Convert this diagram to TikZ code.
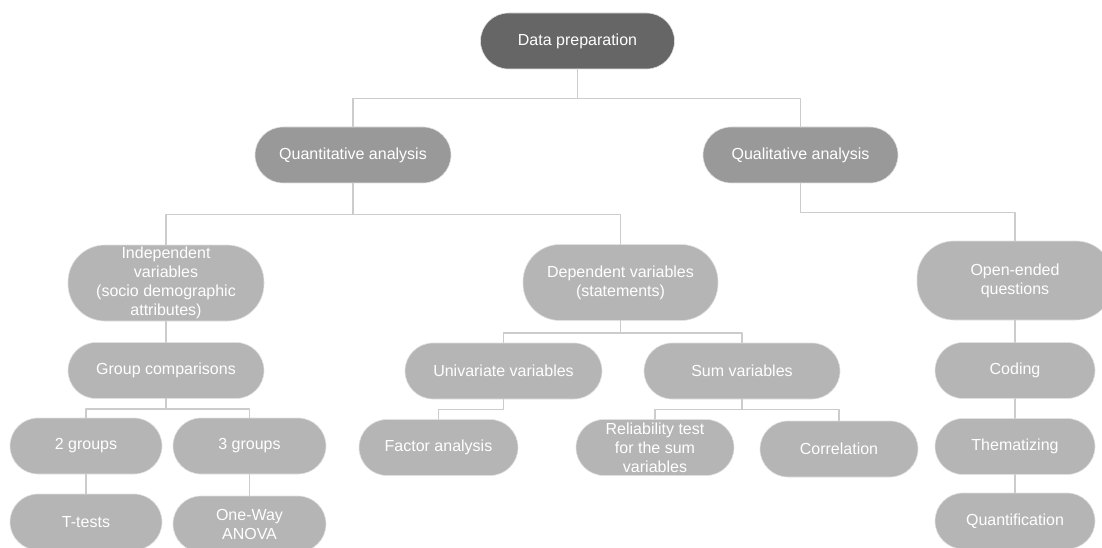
\documentclass[tikz,border=0pt]{standalone}
\usepackage{fontspec}
\setmainfont{Liberation Sans}
\definecolor{rootgray}{HTML}{666666}
\definecolor{midgray}{HTML}{999999}
\definecolor{leafgray}{HTML}{B5B5B5}
\definecolor{linkgray}{HTML}{CCCCCC}
\tikzset{
  pill/.style={rectangle, rounded corners=28pt, fill=leafgray, draw=black!12, line width=0.6pt,
    text=white, align=center, inner sep=0pt, minimum height=56pt,
    font=\fontsize{16}{19}\selectfont},
  tallpill/.style={pill, rounded corners=37pt, minimum height=76pt},
  link/.style={linkgray, line width=1.4pt}
}
\begin{document}
\begin{tikzpicture}[x=1pt,y=-1pt,line cap=round,line join=round]
        \useasboundingbox (0,0) rectangle (1102,548);
        \node[pill, fill=rootgray, minimum width=194pt] (root) at (577.5,41) {Data preparation};
        \node[pill, fill=midgray, minimum width=196pt] (quant) at (353,155) {Quantitative analysis};
        \node[pill, fill=midgray, minimum width=195pt] (qual) at (800.5,155) {Qualitative analysis};

        \node[tallpill, minimum width=196pt] (indep) at (166,283)
          {Independent\\variables\\(socio demographic\\attributes)};
        \node[tallpill, minimum width=195pt] (dep) at (620.5,282.5) {Dependent variables\\(statements)};
        \node[tallpill, minimum width=196pt, minimum height=79pt] (open) at (1015,280.5) {Open-ended\\questions};

        \node[pill, minimum width=196pt] (groupcmp) at (166,370.5) {Group comparisons};
        \node[pill, minimum width=197pt] (univ) at (503.5,371) {Univariate variables};
        \node[pill, minimum width=196pt] (sumvar) at (742,371) {Sum variables};
        \node[pill, minimum width=160pt] (coding) at (1015,370.5) {Coding};

        \node[pill, minimum width=152pt] (twogr) at (86,446) {2 groups};
        \node[pill, minimum width=153pt] (threegr) at (249.5,446) {3 groups};
        \node[pill, minimum width=159pt] (factor) at (438.5,447.5) {Factor analysis};
        \node[pill, minimum width=158pt] (reliab) at (655,447.5) {Reliability test\\for the sum\\variables};
        \node[pill, minimum width=158pt] (correl) at (839,449) {Correlation};
        \node[pill, minimum width=160pt] (themat) at (1015,446.5) {Thematizing};

        \node[pill, minimum width=152pt] (ttests) at (86,522) {T-tests};
        \node[pill, minimum width=153pt] (anova) at (249.5,524) {One-Way\\ANOVA};
        \node[pill, minimum width=160pt] (quantif) at (1015,521) {Quantification};

        \draw[link] (root.south) -- ++(0,29) -| (quant.north);
        \draw[link] (root.south) -- ++(0,29) -| (qual.north);
        \draw[link] (quant.south) -- ++(0,31) -| (indep.north);
        \draw[link] (quant.south) -- ++(0,31) -| (dep.north);
        \draw[link] (qual.south) -- ++(0,29) -| (open.north);
        \draw[link] (indep) -- (groupcmp) (open) -- (coding) (coding) -- (themat) (themat) -- (quantif);
        \draw[link] (dep.south) -- ++(0,12) -| (univ.north);
        \draw[link] (dep.south) -- ++(0,12) -| (sumvar.north);
        \draw[link] (groupcmp.south) -- ++(0,10) -| (twogr.north);
        \draw[link] (groupcmp.south) -- ++(0,10) -| (threegr.north);
        \draw[link] (univ.south) -- ++(0,10) -| (factor.north);
        \draw[link] (sumvar.south) -- ++(0,10) -| (reliab.north);
        \draw[link] (sumvar.south) -- ++(0,10) -| (correl.north);
        \draw[link] (twogr) -- (ttests) (threegr) -- (anova);
      \end{tikzpicture}
\end{document}
